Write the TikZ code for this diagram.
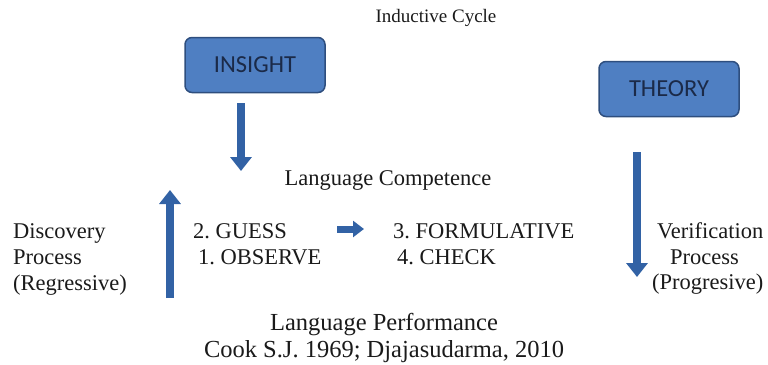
\documentclass[tikz,border=0pt]{standalone}
\usepackage{fontspec}
\setmainfont{Liberation Serif}
\newfontfamily\boxfont{Carlito}
\usetikzlibrary{arrows.meta}
\frenchspacing
\definecolor{boxfill}{HTML}{4F7FC2}
\definecolor{boxline}{HTML}{2E4E7E}
\definecolor{boxtext}{HTML}{1B2A48}
\definecolor{arrowc}{HTML}{3262A5}
\definecolor{txt}{HTML}{1A1A1A}
\tikzset{
  bluebox/.style={draw=boxline, line width=1.5pt, fill=boxfill, rounded corners=7pt,
    minimum width=140pt, minimum height=55pt, font=\boxfont\fontsize{24.5}{26}\selectfont, text=boxtext},
  blockarrow/.style={draw=arrowc, line width=8pt, -{Triangle[width=21pt,length=14pt]}},
  label/.style={font=\frenchspacing\fontsize{22.5}{26}\selectfont, text=txt, inner sep=0pt, anchor=base west},
  biglabel/.style={font=\frenchspacing\fontsize{24.5}{28}\selectfont, text=txt, inner sep=0pt, anchor=base},
  smalllabel/.style={font=\fontsize{19}{22}\selectfont, text=txt, inner sep=0pt, anchor=base}
}
\begin{document}
\begin{tikzpicture}[x=1pt,y=-1pt]
\useasboundingbox (0,0) rectangle (768,364);
\node[smalllabel] (title) at (436,23) {Inductive Cycle};
\node[bluebox] (insight) at (255,65) {INSIGHT};
\node[bluebox] (theory) at (669,89) {THEORY};
\node[label, anchor=base] (comp) at (388,185) {Language Competence};
\coordinate (a1s) at (241,103);
\coordinate (a1e) at (241,171);
\draw[blockarrow] (a1s) -- (a1e);
\coordinate (a2s) at (637,152);
\coordinate (a2e) at (637,277);
\draw[blockarrow] (a2s) -- (a2e);
\coordinate (a3s) at (170,298);
\coordinate (a3e) at (170,190);
\draw[blockarrow] (a3s) -- (a3e);
\node[label] (disc) at (13,238) {Discovery};
\node[label] (dproc) at (13,264) {Process};
\node[label] (regr) at (13,290) {(Regressive)};
\node[label] (guess) at (193,238) {2. GUESS};
\node[label] (observe) at (198,264) {1. OBSERVE};
\coordinate (a4s) at (337,229);
\coordinate (a4e) at (364,229);
\draw[draw=arrowc, line width=7pt, -{Triangle[width=16pt,length=11pt]}] (a4s) -- (a4e);
\node[label] (form) at (393,238) {3. FORMULATIVE};
\node[label] (check) at (397,264) {4. CHECK};
\node[label] (verif) at (657,238) {Verification};
\node[label] (proc) at (670,264) {Process};
\node[label] (prog) at (652,289) {(Progresive)};
\node[biglabel] (perf) at (384,330) {Language Performance};
\node[biglabel] (cook) at (384,357) {Cook S.J. 1969; Djajasudarma, 2010};
\end{tikzpicture}
\end{document}
